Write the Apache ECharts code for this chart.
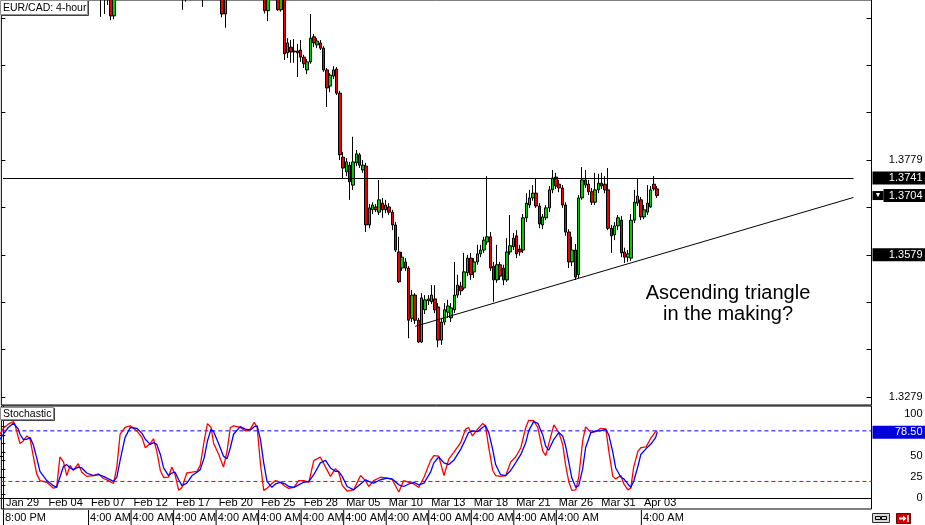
<!DOCTYPE html>
<html><head><meta charset="utf-8">
<script src="https://cdn.jsdelivr.net/npm/echarts@6/dist/echarts.min.js"></script>
<style>html,body{margin:0;padding:0;background:#fff;}#c{width:925px;height:525px;}</style>
</head><body><div id="c"></div>
<script>
// ---- data ----
const opens = [
1.4280,1.4290,1.4300,1.4305,1.4298,1.4270,1.4255,1.4265,1.4270,1.4262,
1.4230,1.4200,1.4190,1.4195,1.4185,1.4178,1.4170,1.4175,1.4215,1.4205,
1.4185,1.4200,1.4190,1.4198,1.4205,1.4188,1.4180,1.4185,1.4182,1.4175,
1.4150,1.4135,1.4140,1.4128,1.4083,1.4125,1.4180,1.4215,1.4230,1.4240,
1.4225,1.4235,1.4215,1.4200,1.4190,1.4210,1.4222,1.4205,1.4170,1.4150,
1.4155,1.4170,1.4160,1.4135,1.4130,1.4140,1.4150,1.4145,1.4152,1.4148,
1.4158,1.4170,1.4215,1.4250,1.4240,1.4200,1.4175,1.4150,1.4087,1.4165,
1.4230,1.4255,1.4250,1.4262,1.4255,1.4250,1.4265,1.4285,1.4270,1.4200,
1.4140,1.4094,1.4130,1.4125,1.4135,1.4096,1.4130,1.4005,1.4017,1.4007,
1.4009,1.4011,1.3996,1.3969,1.3986,1.4039,1.4022,1.4026,1.4015,1.3969,
1.3935,1.3956,1.3971,1.3920,1.3785,1.3754,1.3768,1.3726,1.3773,1.3790,
1.3758,1.3766,1.3642,1.3674,1.3680,1.3669,1.3688,1.3674,1.3680,1.3669,
1.3642,1.3585,1.3551,1.3564,1.3551,1.3445,1.3494,1.3441,1.3395,1.3463,
1.3482,1.3480,1.3486,1.3469,1.3399,1.3437,1.3458,1.3446,1.3463,1.3494,
1.3513,1.3509,1.3541,1.3572,1.3543,1.3564,1.3581,1.3589,1.3606,1.3617,
1.3555,1.3526,1.3558,1.3551,1.3526,1.3585,1.3596,1.3619,1.3591,1.3589,
1.3657,1.3684,1.3699,1.3709,1.3682,1.3642,1.3657,1.3678,1.3716,1.3743,
1.3728,1.3720,1.3684,1.3627,1.3564,1.3589,1.3537,1.3699,1.3737,1.3728,
1.3712,1.3690,1.3716,1.3730,1.3728,1.3716,1.3635,1.3621,1.3640,1.3652,
1.3585,1.3574,1.3572,1.3652,1.3688,1.3695,1.3659,1.3669,1.3680,1.3728,
1.3718];
const closes = [
1.4290,1.4300,1.4305,1.4298,1.4270,1.4255,1.4265,1.4270,1.4262,1.4230,
1.4200,1.4190,1.4195,1.4185,1.4178,1.4170,1.4175,1.4215,1.4205,1.4185,
1.4200,1.4190,1.4198,1.4205,1.4188,1.4180,1.4185,1.4182,1.4175,1.4150,
1.4135,1.4140,1.4128,1.4083,1.4125,1.4180,1.4215,1.4230,1.4240,1.4225,
1.4235,1.4215,1.4200,1.4190,1.4210,1.4222,1.4205,1.4170,1.4150,1.4155,
1.4170,1.4160,1.4135,1.4130,1.4140,1.4150,1.4145,1.4152,1.4148,1.4158,
1.4170,1.4215,1.4250,1.4240,1.4200,1.4175,1.4150,1.4087,1.4165,1.4230,
1.4255,1.4250,1.4262,1.4255,1.4250,1.4265,1.4285,1.4270,1.4200,1.4140,
1.4094,1.4130,1.4125,1.4135,1.4096,1.4130,1.4003,1.4026,1.4007,1.4009,
1.4005,1.3996,1.3982,1.3986,1.4036,1.4026,1.4030,1.4015,1.3969,1.3931,
1.3958,1.3969,1.3920,1.3790,1.3762,1.3775,1.3733,1.3775,1.3792,1.3768,
1.3768,1.3642,1.3678,1.3684,1.3674,1.3695,1.3674,1.3684,1.3669,1.3642,
1.3589,1.3522,1.3574,1.3551,1.3441,1.3494,1.3441,1.3395,1.3488,1.3484,
1.3486,1.3494,1.3463,1.3399,1.3437,1.3463,1.3471,1.3467,1.3494,1.3515,
1.3503,1.3543,1.3572,1.3537,1.3564,1.3581,1.3589,1.3610,1.3617,1.3551,
1.3526,1.3558,1.3534,1.3526,1.3585,1.3598,1.3614,1.3581,1.3585,1.3657,
1.3688,1.3699,1.3709,1.3682,1.3644,1.3659,1.3678,1.3716,1.3741,1.3724,
1.3720,1.3684,1.3627,1.3564,1.3589,1.3532,1.3699,1.3737,1.3726,1.3712,
1.3690,1.3716,1.3730,1.3724,1.3716,1.3635,1.3619,1.3640,1.3657,1.3583,
1.3574,1.3581,1.3652,1.3690,1.3703,1.3659,1.3674,1.3688,1.3716,1.3718,
1.3704];
const lows = [
1.4270,1.4282,1.4292,1.4290,1.4262,1.4245,1.4248,1.4255,1.4252,1.4222,
1.4190,1.4180,1.4182,1.4175,1.4170,1.4160,1.4162,1.4170,1.4195,1.4178,
1.4180,1.4182,1.4185,1.4190,1.4180,1.4172,1.4175,1.4172,1.4168,1.4142,
1.4081,1.4087,1.4106,1.4074,1.4076,1.4120,1.4170,1.4205,1.4220,1.4215,
1.4215,1.4205,1.4190,1.4180,1.4185,1.4200,1.4195,1.4160,1.4140,1.4135,
1.4145,1.4150,1.4125,1.4120,1.4122,1.4096,1.4113,1.4130,1.4135,1.4138,
1.4140,1.4102,1.4205,1.4230,1.4190,1.4160,1.4140,1.4080,1.4058,1.4155,
1.4220,1.4240,1.4240,1.4245,1.4240,1.4245,1.4260,1.4260,1.4190,1.4130,
1.4088,1.4072,1.4118,1.4120,1.4094,1.4092,1.3990,1.3994,1.3984,1.3984,
1.3954,1.3986,1.3973,1.3960,1.3982,1.4017,1.4015,1.4011,1.3965,1.3891,
1.3922,1.3950,1.3916,1.3779,1.3741,1.3745,1.3695,1.3716,1.3766,1.3762,
1.3752,1.3627,1.3635,1.3665,1.3669,1.3663,1.3657,1.3667,1.3663,1.3631,
1.3585,1.3520,1.3545,1.3545,1.3403,1.3437,1.3433,1.3393,1.3393,1.3454,
1.3473,1.3475,1.3456,1.3384,1.3389,1.3431,1.3446,1.3437,1.3456,1.3488,
1.3494,1.3505,1.3534,1.3526,1.3530,1.3558,1.3574,1.3583,1.3600,1.3545,
1.3480,1.3520,1.3526,1.3515,1.3522,1.3579,1.3589,1.3572,1.3577,1.3583,
1.3648,1.3678,1.3693,1.3678,1.3635,1.3633,1.3652,1.3669,1.3709,1.3718,
1.3711,1.3678,1.3619,1.3551,1.3555,1.3526,1.3530,1.3695,1.3720,1.3705,
1.3684,1.3684,1.3709,1.3718,1.3709,1.3631,1.3583,1.3610,1.3631,1.3574,
1.3562,1.3564,1.3566,1.3646,1.3682,1.3652,1.3654,1.3663,1.3678,1.3714,
1.3699];
const highs = [
1.4300,1.4310,1.4315,1.4318,1.4302,1.4278,1.4272,1.4280,1.4278,1.4268,
1.4235,1.4210,1.4205,1.4200,1.4192,1.4185,1.4182,1.4225,1.4222,1.4210,
1.4208,1.4205,1.4205,1.4212,1.4210,1.4195,1.4192,1.4190,1.4188,1.4180,
1.4165,1.4160,1.4150,1.4140,1.4135,1.4190,1.4225,1.4245,1.4250,1.4255,
1.4245,1.4240,1.4225,1.4210,1.4220,1.4230,1.4232,1.4210,1.4180,1.4165,
1.4178,1.4180,1.4165,1.4145,1.4150,1.4160,1.4165,1.4160,1.4160,1.4165,
1.4178,1.4225,1.4260,1.4262,1.4245,1.4210,1.4185,1.4158,1.4175,1.4240,
1.4265,1.4270,1.4272,1.4270,1.4265,1.4275,1.4295,1.4292,1.4275,1.4205,
1.4150,1.4140,1.4145,1.4145,1.4140,1.4138,1.4138,1.4036,1.4032,1.4034,
1.4024,1.4032,1.4001,1.3992,1.4087,1.4045,1.4036,1.4032,1.4019,1.3973,
1.3962,1.3977,1.3975,1.3925,1.3796,1.3783,1.3775,1.3828,1.3800,1.3794,
1.3779,1.3773,1.3686,1.3690,1.3686,1.3737,1.3699,1.3695,1.3688,1.3674,
1.3648,1.3617,1.3585,1.3572,1.3555,1.3505,1.3498,1.3446,1.3498,1.3494,
1.3494,1.3515,1.3515,1.3477,1.3446,1.3477,1.3484,1.3477,1.3564,1.3537,
1.3522,1.3583,1.3579,1.3583,1.3572,1.3600,1.3600,1.3617,1.3745,1.3627,
1.3564,1.3600,1.3564,1.3558,1.3614,1.3663,1.3625,1.3631,1.3600,1.3665,
1.3709,1.3716,1.3726,1.3741,1.3688,1.3665,1.3684,1.3724,1.3758,1.3752,
1.3737,1.3726,1.3690,1.3633,1.3617,1.3602,1.3705,1.3764,1.3758,1.3737,
1.3720,1.3752,1.3750,1.3752,1.3745,1.3762,1.3642,1.3648,1.3663,1.3661,
1.3594,1.3589,1.3665,1.3716,1.3741,1.3701,1.3684,1.3726,1.3724,1.3745,
1.3724];

const dateLabels = ['Jan 29','Feb 04','Feb 07','Feb 12','Feb 17','Feb 20','Feb 25','Feb 28','Mar 05','Mar 10','Mar 13','Mar 18','Mar 21','Mar 26','Mar 31','Apr 03'];
const timeLabels = ['8:00 PM','4:00 AM','4:00 AM','4:00 AM','4:00 AM','4:00 AM','4:00 AM','4:00 AM','4:00 AM','4:00 AM','4:00 AM','4:00 AM','4:00 AM','4:00 AM','4:00 AM','4:00 AM'];

const priceTicks = [1.3279,1.3379,1.3479,1.3579,1.3679,1.3779,1.3879,1.3979,1.4079];
const priceLabels = [1.3279,1.3779];
const markedPrices = [1.3579,1.3741,1.3704];
const currentPrice = 1.3704;
const resistanceLine = [[0,1.3741],[260,1.3741]];
const trendLine = [[126,1.3428],[260,1.3700]];

const stochX = [
-0.9,0.1,1.6,3.2,3.7,4.7,5.2,6.2,7.3,8.3,
9.3,10.3,11.3,13.4,15.4,16.4,17.4,18.5,19.5,20.5,
21.5,23,24.1,25.6,27.6,29.2,30.7,32.2,33.8,34.8,
35.8,37.3,38.9,40.9,42.5,43.5,45,46,47,48.1,
49.1,50.6,51.6,52.6,53.7,54.7,56.2,57.8,59.3,60.3,
61.5,62.5,63.6,64.4,65.9,67.4,68.5,69.5,70.5,72.5,
74.1,75.6,76.8,77.7,78.7,79.7,80.7,82.2,83.3,84.8,
86.3,87.3,88.9,90.4,91.9,93.5,95,97,98.6,100.1,
101.6,102.6,103.7,105.2,107.2,109.3,110.8,111.8,113.3,115.4,
117.4,119,121,122.5,124.1,125.6,127.1,128.7,130.7,131.7,
133.2,134.8,136.3,137.8,139.9,141.4,142.3,143.5,145.1,146.6,
147.5,148.5,149.7,150.6,152.1,153.7,155.2,156.7,158.3,159.8,
160.7,162.2,163.5,165,165.9,166.8,168.4,169.9,171.1,172,
173,173.9,175.1,176,177.2,178.1,179.7,181.2,182.7,184.3,
185.2,186.4,187.3,188.9,189.8,191,191.9,192.8,194.1,195,
196.6,198,199.5,200];
const stochMain = [
76,83,88,91,87,72,65,68,74,70,
49,29,21,19,12,13,49,43,27,39,
33,41,31,26,27,29,23.5,21,17.6,37,
76,84,86,80,72,60,65,70.6,56,33,
24.7,25,37,28,9.4,12.9,30,31,32,39,
68,88.6,84,65,52.5,37,56,84,86,84,
80,82,90,84,41,9.4,12,17.6,21,19,
14,11.8,13,21,21,19,44.7,49,37,26,
35,31,15.3,8.6,10,27,21,14,21,25,
24,22,7.5,21,19,17,12.9,25,44.7,50.6,
50,27,46.7,54.5,66,82,84,74,82,88.6,
86,60,33,27,26,27,43,49,60,84,
92.5,92,84,56,50.6,64,87,78,64,39,
19,9.4,10,25,68,84.7,78,79,83,82,
56,26,23,27,17,10,12,37,56,60,
61,71,79,80];
const stochSignal = [
70,76,84,89,89,82,76,70,70,72,
63,48,32,21,15,13,25,38,40,36,
34,37,36,30,27,28,26,23,20,25,
45,72,84,83,77,70,64,66,64,52,
36,27,30,31,22,15,18,27,31,34,
48,68,82,79,65,50,47,60,76,85,
82,81,85,86,70,42,20,13,17,19,
17,14,13,16,19,20,28,42,45,36,
32,32,26,14,10,17,22,20,18,22,
24,23,16,14,17,19,16,18,31,42,
49,42,40,45,58,70,78,80,79,84,
86,78,58,40,28,27,33,42,52,66,
80,91,89,75,62,57,70,78,74,62,
42,24,13,15,35,60,78,80,80,82,
75,55,36,25,23,17,13,20,38,52,
59,64,72,78.5];
const stochLevels = [80,20];
const stochTicks = [0,25,50,75,100];
const stochLeftTicks = [5,15,25,35,45,55,65,75,85,95];
const stochLast = 78.5;

// ---- layout ----
const W = 3.2712, SLOTS = 266, LABEL_STEP = 13;
const LEFT = 3 - W / 2, GW = W * SLOTS;
const cats = Array.from({length: SLOTS}, (_, i) => String(i));
const FONT = '"Liberation Sans", Arial, sans-serif';
const isLabelSlot = i => i % LABEL_STEP === 0 && i / LABEL_STEP < dateLabels.length;

const candleData = opens.map((o, i) => [o, closes[i], lows[i], highs[i]]);
const mainData = stochX.map((x, i) => [x, stochMain[i]]);
const signalData = stochX.map((x, i) => [x, stochSignal[i]]);
const levelLine = v => [[-0.5, v], [SLOTS - 0.5, v]];

const plainRich = {fontSize: 11, fontFamily: FONT, color: '#000', width: 50, align: 'right', padding: [0, 3, 0, 0], lineHeight: 12};
const boxRich = {fontSize: 11, fontFamily: FONT, color: '#fff', backgroundColor: '#000', width: 50, align: 'right', padding: [1, 3, 1, 0], lineHeight: 12};

const chart = echarts.init(document.getElementById('c'), null, {renderer: 'canvas', width: 925, height: 525});
chart.setOption({
  animation: false,
  backgroundColor: '#fff',
  textStyle: {fontFamily: FONT},
  grid: [
    {left: LEFT, top: 0, width: GW, height: 405, show: true, borderColor: '#000', borderWidth: 1, outerBoundsMode: 'none', containLabel: false},
    {left: LEFT, top: 406, width: GW, height: 103, show: true, borderColor: '#000', borderWidth: 1, outerBoundsMode: 'none', containLabel: false}
  ],
  xAxis: [
    {type: 'category', gridIndex: 0, data: cats, boundaryGap: true, axisLine: {show: false}, axisTick: {show: false}, axisLabel: {show: false}, splitLine: {show: false}},
    {type: 'category', gridIndex: 1, data: cats, boundaryGap: true, position: 'bottom',
      axisLine: {show: true, lineStyle: {color: '#000'}},
      axisTick: {show: false},
      axisLabel: {interval: (i) => isLabelSlot(i), hideOverlap: false, showMinLabel: true, showMaxLabel: true,
        margin: 1, align: 'left', verticalAlign: 'top', fontSize: 11, color: '#000', fontFamily: FONT,
        formatter: (v, idx) => '{bar|}{t|' + (timeLabels[idx / LABEL_STEP] || '') + '}',
        rich: {
          bar: {width: 1, height: 16, backgroundColor: '#000'},
          t: {fontSize: 11, fontFamily: FONT, color: '#000', padding: [0, 0, 0, 1], lineHeight: 16, width: 37, overflow: 'none'}
        }},
      splitLine: {show: false}},
    {type: 'category', gridIndex: 1, data: cats, boundaryGap: true, position: 'bottom',
      axisLine: {show: false}, axisTick: {show: false, length: 0},
      axisLabel: {inside: true, interval: (i) => isLabelSlot(i), hideOverlap: false, margin: 1, align: 'left', padding: [0, 0, 0, 3], fontSize: 11, color: '#000', fontFamily: FONT,
        formatter: (v, idx) => dateLabels[idx / LABEL_STEP] || ''},
      splitLine: {show: false}},
    {type: 'value', gridIndex: 1, min: -0.5, max: SLOTS - 0.5, show: false, splitLine: {show: false}}
  ],
  yAxis: [
    {type: 'value', gridIndex: 0, position: 'right', min: 1.326212, max: 1.411655,
      splitLine: {show: false},
      axisLine: {show: true, lineStyle: {color: '#000'}},
      axisTick: {show: true, inside: true, length: 5, customValues: priceTicks, lineStyle: {color: '#000'}},
      axisLabel: {margin: 1, align: 'left', customValues: priceLabels.concat(markedPrices),
        formatter: v => {
          const s = v.toFixed(4);
          if (s === currentPrice.toFixed(4)) return '{tri|▼}{box2|' + s + '}';
          if (markedPrices.some(m => m.toFixed(4) === s)) return '{box|' + s + '}';
          return '{plain|' + s + '}';
        },
        rich: {
          plain: plainRich, box: boxRich,
          tri: {fontSize: 7, fontFamily: FONT, color: '#fff', backgroundColor: '#000', width: 9, align: 'left', padding: [1, 0, 1, 2], lineHeight: 12},
          box2: {fontSize: 11, fontFamily: FONT, color: '#fff', backgroundColor: '#000', width: 39, align: 'right', padding: [1, 3, 1, 0], lineHeight: 12}
        }}},
    {type: 'value', gridIndex: 1, position: 'right', min: -12.7, max: 109.5,
      splitLine: {show: false},
      axisLine: {show: true, lineStyle: {color: '#000'}},
      axisTick: {show: true, inside: true, length: 5, customValues: stochTicks, lineStyle: {color: '#000'}},
      axisLabel: {margin: 1, align: 'left', customValues: stochTicks.concat([stochLast]),
        formatter: v => v === stochLast ? '{blue|' + stochLast.toFixed(2) + '}' : '{plain|' + v + '}',
        rich: {plain: plainRich, blue: Object.assign({}, boxRich, {backgroundColor: '#0000dd'})}}},
    {type: 'value', gridIndex: 0, position: 'left', min: 1.326212, max: 1.411655,
      splitLine: {show: false}, axisLine: {show: false}, axisLabel: {show: false},
      axisTick: {show: true, inside: true, length: 4, customValues: priceTicks, lineStyle: {color: '#000'}}},
    {type: 'value', gridIndex: 1, position: 'left', min: -12.7, max: 109.5,
      splitLine: {show: false}, axisLine: {show: false}, axisLabel: {show: false},
      axisTick: {show: true, inside: true, length: 4, customValues: stochLeftTicks, lineStyle: {color: '#000'}}}
  ],
  series: [
    {type: 'candlestick', xAxisIndex: 0, yAxisIndex: 0, data: candleData, barWidth: 3, clip: true,
      itemStyle: {color: '#00cc00', color0: '#ee0000', borderColor: '#000', borderColor0: '#000', borderWidth: 1},
      emphasis: {disabled: true},
      markLine: {silent: true, symbol: ['none', 'none'], label: {show: false},
        lineStyle: {color: '#000', width: 1, type: 'solid'},
        data: [
          [{coord: resistanceLine[0]}, {coord: resistanceLine[1]}],
          [{coord: trendLine[0]}, {coord: trendLine[1]}]
        ]}},
    {type: 'line', xAxisIndex: 3, yAxisIndex: 1, data: levelLine(stochLevels[0]), showSymbol: false, silent: true,
      lineStyle: {color: '#0000ff', width: 1, type: [4, 3]}, emphasis: {disabled: true}},
    {type: 'line', xAxisIndex: 3, yAxisIndex: 1, data: levelLine(stochLevels[1]), showSymbol: false, silent: true,
      lineStyle: {color: '#ff0000', width: 1, type: [4, 3]}, emphasis: {disabled: true}},
    {type: 'line', xAxisIndex: 3, yAxisIndex: 1, data: mainData, showSymbol: false, clip: true,
      lineStyle: {color: '#ff0000', width: 1.3}, emphasis: {disabled: true}},
    {type: 'line', xAxisIndex: 3, yAxisIndex: 1, data: signalData, showSymbol: false, clip: true,
      lineStyle: {color: '#0000ff', width: 1.3}, emphasis: {disabled: true}}
  ],
  graphic: [
    {type: 'rect', z: 100, shape: {x: 0.5, y: 0.5, width: 87, height: 14}, style: {fill: '#fff', stroke: '#909090', lineWidth: 1}},
    {type: 'polyline', z: 100, shape: {points: [[1, 15.5], [88.5, 15.5], [88.5, 1]]}, style: {stroke: '#404040', fill: null, lineWidth: 1}},
    {type: 'text', z: 101, x: 3, y: 8, style: {text: 'EUR/CAD: 4-hour', fontSize: 10.5, fontFamily: FONT, fill: '#000', verticalAlign: 'middle', align: 'left'}},
    {type: 'rect', z: 100, shape: {x: 0.5, y: 407.5, width: 53, height: 12}, style: {fill: '#fff', stroke: '#909090', lineWidth: 1}},
    {type: 'polyline', z: 100, shape: {points: [[1, 420.5], [54.5, 420.5], [54.5, 408]]}, style: {stroke: '#404040', fill: null, lineWidth: 1}},
    {type: 'text', z: 101, x: 3, y: 414, style: {text: 'Stochastic', fontSize: 10.5, fontFamily: FONT, fill: '#000', verticalAlign: 'middle', align: 'left'}},
    {type: 'text', z: 101, x: 728, y: 303.5, style: {text: 'Ascending triangle\nin the making?', fontSize: 20, lineHeight: 21, fontFamily: FONT, fill: '#000', verticalAlign: 'middle', align: 'center'}},
    {type: 'rect', z: 100, shape: {x: 872.5, y: 513.5, width: 17, height: 9}, style: {fill: '#d8d8d8', stroke: '#303030', lineWidth: 1}},
    {type: 'rect', z: 101, shape: {x: 875.5, y: 516.5, width: 5, height: 3}, style: {fill: null, stroke: '#000', lineWidth: 1}},
    {type: 'rect', z: 101, shape: {x: 881.5, y: 516.5, width: 5, height: 3}, style: {fill: null, stroke: '#000', lineWidth: 1}},
    {type: 'rect', z: 100, shape: {x: 896.5, y: 513.5, width: 14, height: 10}, style: {fill: '#cc0000', stroke: '#700000', lineWidth: 1}},
    {type: 'polyline', z: 101, shape: {points: [[899, 518.5], [905, 518.5]]}, style: {stroke: '#fff', lineWidth: 2}},
    {type: 'polygon', z: 101, shape: {points: [[903, 515.5], [906.5, 518.5], [903, 521.5]]}, style: {fill: '#fff'}},
    {type: 'polyline', z: 101, shape: {points: [[908, 515], [908, 522]]}, style: {stroke: '#fff', lineWidth: 1.5}}
  ]
});
</script>
</body></html>
